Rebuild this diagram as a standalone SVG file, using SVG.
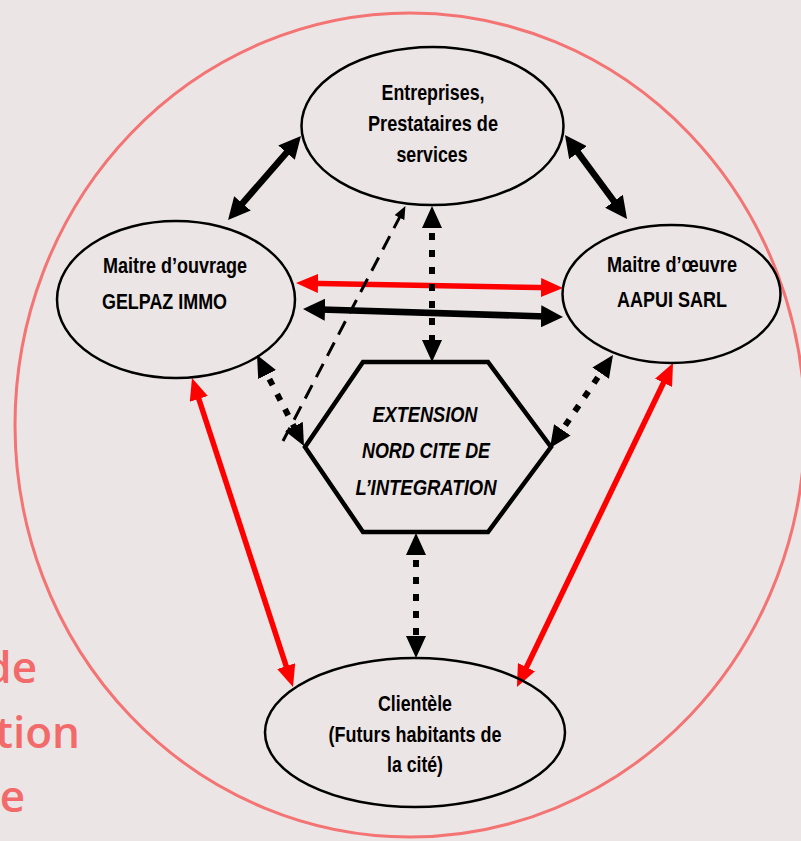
<svg xmlns="http://www.w3.org/2000/svg" width="801" height="841" viewBox="0 0 801 841">
<style>
.node{fill:none;stroke:#000;stroke-width:2.5}
.lbl{font-family:"Liberation Sans Narrow","Liberation Sans",Arial,sans-serif;font-weight:bold;font-size:22.5px;fill:#000}
.it{font-style:italic}
.blk{stroke:#000;stroke-width:6.5;fill:none}
.red{stroke:#f00;stroke-width:5.5;fill:none}
.dot{stroke:#000;stroke-width:6;stroke-dasharray:7 10;fill:none}
.dash{stroke:#000;stroke-width:3;stroke-dasharray:15 9;fill:none}
.bg{font-family:"Open Sans","Liberation Sans",sans-serif;font-weight:600;font-size:44px;fill:#f26a6a}
</style>
<defs>
<marker id="ahB" viewBox="0 0 22 22" refX="12" refY="11" markerWidth="22" markerHeight="22" markerUnits="userSpaceOnUse" orient="auto-start-reverse"><path d="M0,0 L22,11 L0,22 z" fill="#000"/></marker>
<marker id="ahD" viewBox="0 0 22 20" refX="12" refY="10" markerWidth="22" markerHeight="20" markerUnits="userSpaceOnUse" orient="auto-start-reverse"><path d="M0,0 L22,10 L0,20 z" fill="#000"/></marker>
<marker id="ahR" viewBox="0 0 22 19" refX="12" refY="9.5" markerWidth="22" markerHeight="19" markerUnits="userSpaceOnUse" orient="auto-start-reverse"><path d="M0,0 L22,9.5 L0,19 z" fill="#f00"/></marker>
<marker id="ahS" viewBox="0 0 13 11" refX="6" refY="5.5" markerWidth="13" markerHeight="11" markerUnits="userSpaceOnUse" orient="auto"><path d="M0,0 L13,5.5 L0,11 z" fill="#000"/></marker>
</defs>
<rect x="0" y="0" width="801" height="841" fill="#ebe5e5"/>
<g id="background-text">
<text class="bg" x="37" y="683" text-anchor="end">de</text>
<text class="bg" x="80" y="748" text-anchor="end">tion</text>
<text class="bg" x="25" y="812" text-anchor="end">e</text>
</g>
<g id="frame"><ellipse cx="410" cy="425" rx="395" ry="412" fill="none" stroke="#f47474" stroke-width="3"/></g>
<g id="connectors">
<line class="blk" x1="294.4" y1="143.6" x2="234.6" y2="212.4" marker-start="url(#ahB)" marker-end="url(#ahB)"/>
<line class="blk" x1="570.9" y1="143" x2="621.1" y2="210.9" marker-start="url(#ahB)" marker-end="url(#ahB)"/>
<line class="red" x1="306" y1="283.2" x2="553" y2="287.8" marker-start="url(#ahR)" marker-end="url(#ahR)"/>
<line class="blk" x1="313" y1="309.3" x2="553" y2="316.7" marker-start="url(#ahB)" marker-end="url(#ahB)"/>
<line class="dot" x1="432" y1="216" x2="432" y2="352" marker-start="url(#ahD)" marker-end="url(#ahD)"/>
<line class="dash" x1="283" y1="441" x2="402.2" y2="212.3" marker-end="url(#ahS)"/>
<line class="dot" x1="261.6" y1="363.9" x2="299.4" y2="437.1" marker-start="url(#ahD)" marker-end="url(#ahD)"/>
<line class="dot" x1="607.4" y1="363.3" x2="555.6" y2="439.7" marker-start="url(#ahD)" marker-end="url(#ahD)"/>
<line class="red" x1="195.1" y1="387.5" x2="289.9" y2="677.5" marker-start="url(#ahR)" marker-end="url(#ahR)"/>
<line class="red" x1="668.7" y1="372" x2="521.3" y2="678" marker-start="url(#ahR)" marker-end="url(#ahR)"/>
<line class="dot" x1="416" y1="543" x2="416" y2="648" marker-start="url(#ahD)" marker-end="url(#ahD)"/>
</g>
<g id="entreprises">
<ellipse class="node" cx="432.5" cy="126" rx="131" ry="79"/>
<text class="lbl" x="433" y="100" text-anchor="middle" textLength="103" lengthAdjust="spacingAndGlyphs">Entreprises,</text>
<text class="lbl" x="433" y="131" text-anchor="middle" textLength="130" lengthAdjust="spacingAndGlyphs">Prestataires de</text>
<text class="lbl" x="432" y="162" text-anchor="middle" textLength="71" lengthAdjust="spacingAndGlyphs">services</text>
</g>
<g id="maitre-ouvrage">
<ellipse class="node" cx="176" cy="299.5" rx="119" ry="78.5"/>
<text class="lbl" x="103" y="273" textLength="144" lengthAdjust="spacingAndGlyphs">Maitre d’ouvrage</text>
<text class="lbl" x="102" y="309" textLength="125" lengthAdjust="spacingAndGlyphs">GELPAZ IMMO</text>
</g>
<g id="maitre-oeuvre">
<ellipse class="node" cx="671.5" cy="294" rx="109" ry="69"/>
<text class="lbl" x="672" y="272" text-anchor="middle" textLength="130" lengthAdjust="spacingAndGlyphs">Maitre d’œuvre</text>
<text class="lbl" x="672" y="307" text-anchor="middle" textLength="110" lengthAdjust="spacingAndGlyphs">AAPUI SARL</text>
</g>
<g id="extension">
<polygon points="363,362 488,362 551,447 488,532 363,532 305,447" fill="none" stroke="#000" stroke-width="4.5" stroke-linejoin="miter"/>
<text class="lbl it" x="425" y="422" text-anchor="middle" textLength="105" lengthAdjust="spacingAndGlyphs">EXTENSION</text>
<text class="lbl it" x="426" y="458" text-anchor="middle" textLength="128" lengthAdjust="spacingAndGlyphs">NORD CITE DE</text>
<text class="lbl it" x="426" y="495" text-anchor="middle" textLength="141" lengthAdjust="spacingAndGlyphs">L’INTEGRATION</text>
</g>
<g id="clientele">
<ellipse class="node" cx="415" cy="732.5" rx="150" ry="74.5"/>
<text class="lbl" x="415" y="711" text-anchor="middle" textLength="74" lengthAdjust="spacingAndGlyphs">Clientèle</text>
<text class="lbl" x="415" y="742" text-anchor="middle" textLength="173" lengthAdjust="spacingAndGlyphs">(Futurs habitants de</text>
<text class="lbl" x="415" y="772" text-anchor="middle" textLength="56" lengthAdjust="spacingAndGlyphs">la cité)</text>
</g>
</svg>
